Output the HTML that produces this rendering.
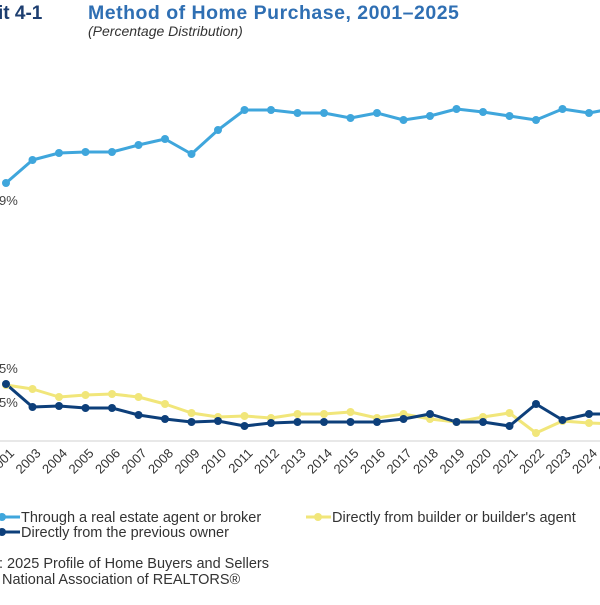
<!DOCTYPE html>
<html><head><meta charset="utf-8"><style>
body{margin:0;background:#fff;width:600px;height:600px;overflow:hidden}
svg{font-family:"Liberation Sans",sans-serif}
</style></head><body>
<svg width="600" height="600" viewBox="0 0 600 600" xmlns="http://www.w3.org/2000/svg">
<text x="-2" y="19" font-size="19" font-weight="bold" fill="#1d3e70">it 4-1</text>
<text x="88" y="19" font-size="19.5" font-weight="bold" letter-spacing="0.5" fill="#2f6fb3">Method of Home Purchase, 2001–2025</text>
<text x="88" y="36" font-size="14" font-style="italic" fill="#333">(Percentage Distribution)</text>
<text x="-1" y="205" font-size="13" fill="#444">9%</text>
<text x="-1" y="373" font-size="13" fill="#444">5%</text>
<text x="-1" y="407" font-size="13" fill="#444">5%</text>
<line x1="0" y1="441" x2="600" y2="441" stroke="#d0d0d0" stroke-width="1"/>
<g id="yrs" font-size="13" fill="#333"></g>
<g fill="none" stroke-width="3" stroke-linejoin="round">
<polyline id="pb" stroke="#3fa6dc"/>
<polyline id="py" stroke="#f1e67a"/>
<polyline id="pd" stroke="#0d3f7a"/>
</g>
<g id="dots"></g>
<line x1="-5" y1="517" x2="20" y2="517" stroke="#3fa6dc" stroke-width="3"/><circle cx="2" cy="517" r="4" fill="#3fa6dc"/>
<text x="21" y="522" font-size="14.5" fill="#333">Through a real estate agent or broker</text>
<line x1="306" y1="517" x2="331" y2="517" stroke="#f1e67a" stroke-width="3"/><circle cx="318" cy="517" r="4" fill="#f1e67a"/>
<text x="332" y="522" font-size="14.5" fill="#333">Directly from builder or builder's agent</text>
<line x1="-5" y1="532" x2="20" y2="532" stroke="#0d3f7a" stroke-width="3"/><circle cx="2" cy="532" r="4" fill="#0d3f7a"/>
<text x="21" y="537" font-size="14.5" fill="#333">Directly from the previous owner</text>
<text x="-1" y="568" font-size="14.5" fill="#333">: 2025 Profile of Home Buyers and Sellers</text>
<text x="2" y="584" font-size="14.5" fill="#333">National Association of REALTORS®</text>
</svg>
<script>
var xs=[];for(var i=0;i<24;i++)xs.push(6+i*26.5);
var B=[183,160,153,152,152,145,139,154,130,110,110,113,113,118,113,120,116,109,112,116,120,109,113,108];
var Y=[385,389,397,395,394,397,404,413,417,416,418,414,414,412,418,414,419,422,417,413,433,421,423,424];
var D=[384,407,406,408,408,415,419,422,421,426,423,422,422,422,422,419,414,422,422,426,404,420,414,414];
function pts(a){return a.map(function(v,i){return xs[i]+","+v}).join(" ")}
document.getElementById("pb").setAttribute("points",pts(B));
document.getElementById("py").setAttribute("points",pts(Y));
document.getElementById("pd").setAttribute("points",pts(D));
var ns="http://www.w3.org/2000/svg",g=document.getElementById("dots");
[[B,"#3fa6dc"],[Y,"#f1e67a"],[D,"#0d3f7a"]].forEach(function(s){s[0].forEach(function(v,i){var c=document.createElementNS(ns,"circle");c.setAttribute("cx",xs[i]);c.setAttribute("cy",v);c.setAttribute("r",4);c.setAttribute("fill",s[1]);g.appendChild(c);});});
var yg=document.getElementById("yrs");
var yrs=[2001];for(var y=2003;y<=2025;y++)yrs.push(y);
yrs.forEach(function(y,i){var t=document.createElementNS(ns,"text");var x=xs[i]+9,yy=454;t.setAttribute("x",x);t.setAttribute("y",yy);t.setAttribute("text-anchor","end");t.setAttribute("transform","rotate(-45 "+x+" "+yy+")");t.textContent=y;yg.appendChild(t);});
</script>
</body></html>
